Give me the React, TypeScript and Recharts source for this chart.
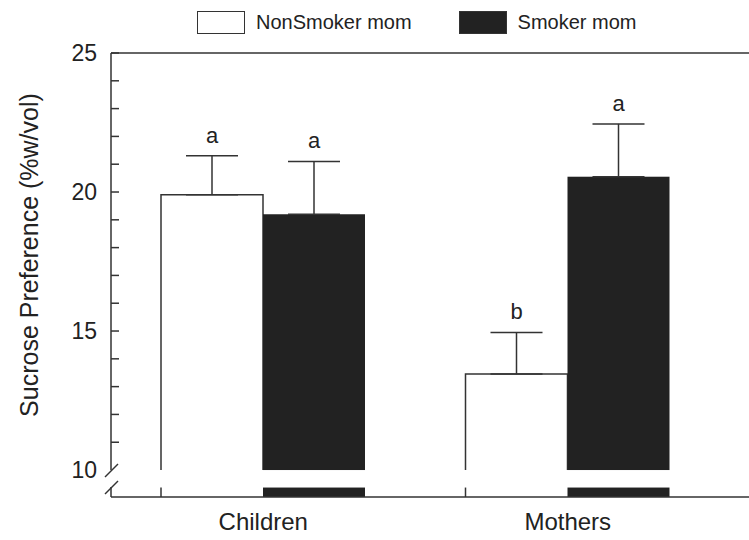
import React from "react";
import { BarChart, Bar, XAxis, YAxis, ErrorBar, ReferenceLine } from "recharts";

const categories = ["Children", "Mothers"];
const nonSmoker = [19.9, 13.45];
const nonSmokerErr = [1.4, 1.5];
const smoker = [19.2, 20.55];
const smokerErr = [1.9, 1.9];
const nonSmokerSig = ["a", "b"];
const smokerSig = ["a", "a"];
const yTicks = [10, 11, 12, 13, 14, 15, 16, 17, 18, 19, 20, 21, 22, 23, 24, 25];

const FONT = "'Liberation Sans', Arial, Helvetica, sans-serif";
const INK = "#222";
const LINE = "#333";

// the y axis is broken just under 10: the x-axis line sits at Y_FLOOR,
// and only a short stub of each bar is shown between STRIP_TOP and the axis
const Y_FLOOR = 9.03;
const STRIP_TOP = 9.37;
const BREAK = 10;

const data = categories.map((name, i) => ({
    name,
    nonSmoker: nonSmoker[i],
    nonSmokerErr: [0, nonSmokerErr[i]],
    nonSmokerSig: nonSmokerSig[i],
    smoker: smoker[i],
    smokerErr: [0, smokerErr[i]],
    smokerSig: smokerSig[i],
}));

const geom = (props: any, value: number) => {
    const bottom = props.y + props.height;
    const ppu = props.height / (value - Y_FLOOR);
    return {
        bottom,
        ppu,
        yBreak: bottom - (BREAK - Y_FLOOR) * ppu,
        yStrip: bottom - (STRIP_TOP - Y_FLOOR) * ppu,
    };
};

const SigLetter = ({ x, y, text }: any) => (
    <text
        x={x}
        y={y}
        textAnchor="middle"
        fontSize={22}
        fontFamily={FONT}
        fill={INK}
    >
        {text}
    </text>
);

const NonSmokerShape = (props: any) => {
    const { x, y, width, payload } = props;
    const idx = categories.indexOf(payload.name);
    const g = geom(props, payload.nonSmoker);
    const errTop = y - nonSmokerErr[idx] * g.ppu;
    return (
        <g>
            <path
                d={`M${x},${g.yBreak} V${y} H${x + width} V${g.yBreak}`}
                fill="#fff"
                stroke={LINE}
                strokeWidth={1.5}
            />
            <line x1={x} x2={x} y1={g.yStrip} y2={g.bottom} stroke={LINE} strokeWidth={1.5} />
            <SigLetter x={x + width / 2} y={errTop - 13} text={payload.nonSmokerSig} />
        </g>
    );
};

const SmokerShape = (props: any) => {
    const { x, y, width, payload } = props;
    const idx = categories.indexOf(payload.name);
    const g = geom(props, payload.smoker);
    const errTop = y - smokerErr[idx] * g.ppu;
    return (
        <g>
            <rect x={x} y={y} width={width} height={g.yBreak - y} fill={INK} />
            <rect x={x} y={g.yStrip} width={width} height={g.bottom - g.yStrip} fill={INK} />
            <SigLetter x={x + width / 2} y={errTop - 13} text={payload.smokerSig} />
        </g>
    );
};

// ticks point into the plot; only every fifth value carries a label
const YTick = (props: any) => {
    const { x, y, payload } = props;
    const v = payload.value;
    const label = (
        <text x={x - 14} y={y} dy="0.36em" textAnchor="end" fontSize={23} fontFamily={FONT} fill={INK}>
            {v}
        </text>
    );
    if (v === BREAK) {
        return (
            <g>
                <rect x={x - 3} y={y} width={6} height={17} fill="#fff" />
                <line x1={x - 6} y1={y + 7} x2={x + 7} y2={y - 6} stroke={LINE} strokeWidth={1.5} />
                <line x1={x - 6} y1={y + 24} x2={x + 7} y2={y + 11} stroke={LINE} strokeWidth={1.5} />
                {label}
            </g>
        );
    }
    return (
        <g>
            <line x1={x} x2={x + 8} y1={y} y2={y} stroke={LINE} strokeWidth={1.5} />
            {v % 5 === 0 && label}
        </g>
    );
};

const YLabel = ({ viewBox }: any) => {
    const cx = viewBox.x + 38;
    const cy = viewBox.y + viewBox.height * 0.455;
    return (
        <text
            x={cx}
            y={cy}
            transform={`rotate(-90, ${cx}, ${cy})`}
            textAnchor="middle"
            fontSize={25}
            fontFamily={FONT}
            fill={INK}
        >
            Sucrose Preference (%w/vol)
        </text>
    );
};

const LegendKey = ({ dark, label }: { dark: boolean; label: string }) => (
    <div style={{ display: "flex", alignItems: "center" }}>
        <span
            style={{
                display: "inline-block",
                width: 46,
                height: 21,
                border: `1.5px solid ${LINE}`,
                background: dark ? INK : "#fff",
            }}
        />
        <span style={{ marginLeft: 11, fontSize: 20, color: INK }}>{label}</span>
    </div>
);

const App: React.FC = () => {
    return (
        <div
            style={{
                position: "absolute",
                left: 0,
                top: 0,
                width: 749,
                height: 540,
                overflow: "hidden",
                background: "#fff",
                fontFamily: FONT,
            }}
        >
            <div
                style={{
                    position: "absolute",
                    top: 11,
                    left: 197,
                    display: "flex",
                    gap: 47,
                }}
            >
                <LegendKey dark={false} label="NonSmoker mom" />
                <LegendKey dark label="Smoker mom" />
            </div>
            <BarChart
                width={800}
                height={540}
                data={data}
                margin={{ top: 53, right: 10, left: 0, bottom: 0 }}
                barGap={0}
                barSize={102}
            >
                <XAxis
                    dataKey="name"
                    type="category"
                    height={43}
                    padding={{ left: 0, right: 70 }}
                    tickLine={false}
                    tickSize={0}
                    tickMargin={16}
                    axisLine={{ stroke: LINE, strokeWidth: 1.5 }}
                    tick={{ fontSize: 24, fill: INK, fontFamily: FONT }}
                />
                <YAxis
                    type="number"
                    width={111}
                    domain={[Y_FLOOR, 25]}
                    ticks={yTicks}
                    interval={0}
                    allowDataOverflow
                    tickLine={false}
                    tickSize={0}
                    tickMargin={0}
                    axisLine={{ stroke: LINE, strokeWidth: 1.5 }}
                    tick={<YTick />}
                    label={{ content: <YLabel /> }}
                />
                <ReferenceLine y={25} stroke={LINE} strokeWidth={1.5} />
                <Bar dataKey="nonSmoker" shape={<NonSmokerShape />} isAnimationActive={false}>
                    <ErrorBar dataKey="nonSmokerErr" width={26} stroke={LINE} strokeWidth={1.5} />
                </Bar>
                <Bar dataKey="smoker" shape={<SmokerShape />} isAnimationActive={false}>
                    <ErrorBar dataKey="smokerErr" width={26} stroke={LINE} strokeWidth={1.5} />
                </Bar>
            </BarChart>
        </div>
    );
};

export default App;
